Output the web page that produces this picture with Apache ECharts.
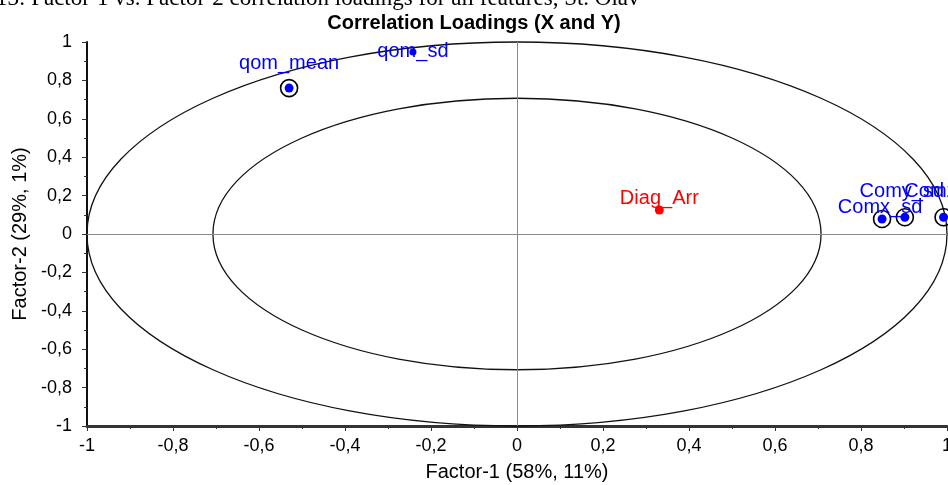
<!DOCTYPE html>
<html>
<head>
<meta charset="utf-8">
<script src="https://cdn.jsdelivr.net/npm/echarts@6/dist/echarts.min.js"></script>
<style>
html,body{margin:0;padding:0;background:#fff;}
#chart{width:948px;height:485px;}
</style>
</head>
<body>
<div id="chart"></div>
<script>
// ---- data ----
var pointNames = ['qom_mean', 'qom_sd', 'Diag_Arr', 'Comx_sd', 'Comy_sd', 'Comz_sd'];
var factor1 = [-0.53, -0.242, 0.331, 0.849, 0.902, 0.992];
var factor2 = [0.76, 0.948, 0.125, 0.078, 0.087, 0.087];
var isY = [false, false, true, false, false, false];
var circled = [true, false, false, true, true, true];
var ellipseRadii = [1, 0.7071];
var tickValues = [-1, -0.8, -0.6, -0.4, -0.2, 0, 0.2, 0.4, 0.6, 0.8, 1];

// ---- layout (label offsets, px) ----
var labelOffsets = [[0, -25], [0, 0], [0, -12], [-2, -12], [-3, -26], [3, -26]];

var fontFam = '"Liberation Sans", Arial, sans-serif';
function fmt(v) {
  var r = Math.round(v * 10) / 10;
  return String(r).replace('.', ',');
}

var pts = pointNames.map(function (n, i) {
  return {
    name: n,
    value: [factor1[i], factor2[i]],
    symbolSize: (i === 1) ? 7 : 9,
    itemStyle: { color: isY[i] ? '#ff0000' : '#0000ff', opacity: 1 },
    label: {
      show: true,
      position: 'inside',
      offset: labelOffsets[i],
      formatter: '{b}',
      color: isY[i] ? '#ff0000' : '#0000ff',
      fontFamily: fontFam,
      fontSize: 20
    }
  };
});
var rings = [];
pointNames.forEach(function (n, i) {
  if (circled[i]) rings.push([factor1[i], factor2[i]]);
});

var chart = echarts.init(document.getElementById('chart'), null, { renderer: 'canvas' });
chart.setOption({
  animation: false,
  backgroundColor: '#fff',
  title: [{
    text: 'Correlation Loadings (X and Y)',
    left: 'center',
    top: 8,
    textStyle: { fontFamily: fontFam, fontWeight: 'bold', fontSize: 20, color: '#000' }
  }],
  graphic: [{
    type: 'text',
    left: -4,
    top: -13,
    style: {
      text: '13: Factor-1 vs. Factor-2 correlation loadings for all features, St. Olav',
      font: '23px "Liberation Serif", serif',
      fill: '#000'
    }
  }],
  grid: { left: 87, right: 1, top: 42, bottom: 59, containLabel: false, outerBoundsMode: 'none' },
  xAxis: {
    type: 'value',
    min: -1, max: 1, interval: 0.2,
    name: 'Factor-1 (58%, 11%)',
    nameLocation: 'middle',
    nameGap: 36,
    nameTextStyle: { fontFamily: fontFam, fontSize: 20, color: '#000' },
    axisLine: { show: true, onZero: false, lineStyle: { color: '#333', width: 3 } },
    axisTick: { show: true, length: 5, lineStyle: { color: '#333', width: 1 } },
    minorTick: { show: true, splitNumber: 2, length: 3, lineStyle: { color: '#333' } },
    axisLabel: { formatter: fmt, fontFamily: fontFam, fontSize: 18, color: '#000', margin: 11 },
    splitLine: { show: false }
  },
  yAxis: {
    type: 'value',
    min: -1, max: 1, interval: 0.2,
    name: 'Factor-2 (29%, 1%)',
    nameLocation: 'middle',
    nameGap: 56,
    nameTextStyle: { fontFamily: fontFam, fontSize: 20, color: '#000' },
    axisLine: { show: true, onZero: false, lineStyle: { color: '#111', width: 2 } },
    axisTick: { show: true, length: 5, lineStyle: { color: '#333', width: 1 } },
    minorTick: { show: true, splitNumber: 2, length: 3, lineStyle: { color: '#333' } },
    axisLabel: { formatter: fmt, fontFamily: fontFam, fontSize: 18, color: '#000', margin: 15 },
    splitLine: { show: false }
  },
  series: [
    {
      type: 'custom',
      silent: true,
      data: ellipseRadii.map(function (r) { return [0, 0, r]; }),
      renderItem: function (params, api) {
        var c = api.coord([api.value(0), api.value(1)]);
        var r = api.value(2);
        var s = api.size([r, r]);
        return {
          type: 'ellipse',
          shape: { cx: c[0], cy: c[1], rx: s[0], ry: s[1] },
          style: { fill: null, stroke: '#111', lineWidth: 1.3 }
        };
      },
      markLine: {
        silent: true,
        symbol: 'none',
        label: { show: false },
        lineStyle: { color: '#8a8a8a', width: 1, type: 'solid' },
        data: [{ xAxis: 0 }, { yAxis: 0 }]
      },
      z: 1
    },
    {
      type: 'scatter',
      silent: true,
      symbol: 'circle',
      symbolSize: 17,
      itemStyle: { color: 'rgba(0,0,0,0)', borderColor: '#000', borderWidth: 1.6, opacity: 1 },
      data: rings,
      z: 2
    },
    {
      type: 'scatter',
      symbol: 'circle',
      data: pts,
      z: 3
    }
  ]
});
</script>
</body>
</html>
